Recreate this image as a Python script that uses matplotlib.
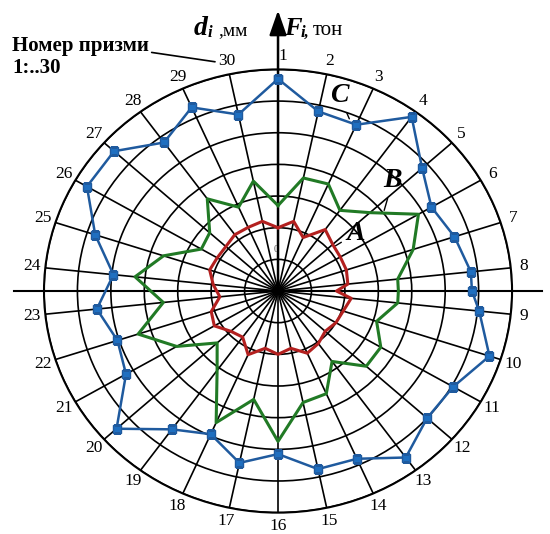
import numpy as np
import matplotlib
matplotlib.use("Agg")
import matplotlib.pyplot as plt

# spoke numbers (prism 1..30); 8.5 is the extra reading on the horizontal axis
spokes = [1, 2, 3, 4, 5, 6, 7, 8, 8.5, 9, 10, 11, 12, 13, 14, 15, 16, 17, 18, 19, 20,
          21, 22, 23, 24, 25, 26, 27, 28, 29, 30]
tick_labels = [str(i) for i in range(1, 31)]

# A - red (inner)
series_a = [2.0, 2.25, 1.85, 2.4, 2.2, 2.15, 2.15, 2.1, 1.75, 2.2, 2.05, 2.0, 1.9, 2.05,
            2.15, 1.85, 2.0, 1.85, 2.2, 1.8, 1.9, 2.2, 2.1, 1.75, 1.95, 2.15, 2.1, 2.1,
            2.2, 2.2, 2.25]
# B - green
series_b = [2.7, 3.65, 3.7, 3.15, 3.7, 4.85, 4.25, 3.6, 3.6, 3.6, 3.1, 3.55, 3.55, 2.75,
            3.55, 3.6, 4.75, 3.5, 4.55, 3.1, 2.45, 3.5, 4.4, 3.45, 4.3, 3.6, 2.65, 2.75,
            3.6, 2.9, 3.55]
# C - blue with markers
series_c = [6.7, 5.8, 5.75, 6.8, 5.8, 5.3, 5.55, 5.8, 5.8, 6.05, 6.65, 6.05, 6.0, 6.5,
            5.8, 5.75, 5.15, 5.55, 4.95, 5.4, 6.5, 5.25, 5.05, 5.45, 4.95, 5.75, 6.6,
            6.6, 5.8, 6.35, 5.7]

SERIF = "Liberation Serif"
W, H = 550, 534


def px(x, y):
    return x / W, 1 - y / H


def closed(vals):
    th = np.deg2rad((np.array(spokes) - 1) * 12.0)
    return np.append(th, th[0]), np.append(vals, vals[0])


fig = plt.figure(figsize=(5.5, 5.34), dpi=100)
ax = fig.add_axes([0.08, 0.040, 0.851, 0.830], projection="polar")
ax.set_aspect("auto")
ax.set_theta_zero_location("N")
ax.set_theta_direction(-1)
ax.set_ylim(0, 7)

ax.set_xticks(np.deg2rad(np.arange(30) * 12.0))
ax.set_xticklabels(tick_labels, fontsize=12.5, family=SERIF)
ax.tick_params(axis="x", pad=-1)
ax.get_xticklabels()[0].set_horizontalalignment("left")
ax.set_yticks(range(1, 8))
ax.set_yticklabels([])
ax.grid(True, color="black", linewidth=1.2)
ax.spines["polar"].set_linewidth(1.5)

# axes: horizontal line and vertical arrow
ax.plot([np.pi / 2, 0, 3 * np.pi / 2], [7.9, 0, 7.9], color="black", lw=1.5,
        clip_on=False, zorder=3)
ax.annotate("", xy=(0, 8.95), xytext=(0, 0), xycoords="data",
            arrowprops=dict(arrowstyle="-|>,head_length=1.0,head_width=0.35",
                            color="black", lw=1.8, mutation_scale=15),
            annotation_clip=False, zorder=4)

th, r = closed(series_a)
ax.plot(th, r, color="#b3201f", lw=2.2, zorder=5)
th, r = closed(series_b)
ax.plot(th, r, color="#217a25", lw=2.2, zorder=5)
th, r = closed(series_c)
ax.plot(th, r, color="#1f5a9e", lw=1.8, marker="s", markersize=5.5,
        markerfacecolor="#1f6fc0", markeredgecolor="#1f5a9e", zorder=6)

# curve labels with leaders
lab = dict(fontsize=20, style="italic", weight="bold", family=SERIF,
           ha="center", va="center", annotation_clip=False)
ax.annotate("C", xy=(np.deg2rad(22), 5.78), xytext=(np.deg2rad(16.5), 6.45),
            arrowprops=dict(arrowstyle="-", lw=1, color="black"), **lab)
ax.annotate("B", xy=(np.deg2rad(52), 4.0), xytext=(np.deg2rad(44.5), 4.9),
            arrowprops=dict(arrowstyle="-", lw=1, color="black"), **lab)
ax.annotate("A", xy=(np.deg2rad(50), 2.15), xytext=(np.deg2rad(52), 2.95),
            arrowprops=dict(arrowstyle="-", lw=1, color="black"), **lab)
ax.text(np.deg2rad(-3), 1.3, "0", fontsize=7, color="#555555", family=SERIF,
        ha="center", va="center")

# header texts
fig.text(*px(194, 35), "d", fontsize=20, style="italic", weight="bold",
         family=SERIF, ha="left", va="baseline")
fig.text(*px(208, 37), "i", fontsize=12, style="italic", weight="bold",
         family=SERIF, ha="left", va="baseline")
fig.text(*px(218, 35), ",мм", fontsize=14, family=SERIF, ha="left", va="baseline")
fig.text(*px(284, 35), "F", fontsize=19, style="italic", weight="bold",
         family=SERIF, ha="left", va="baseline")
fig.text(*px(301, 37), "i,", fontsize=12, style="italic", weight="bold",
         family=SERIF, ha="left", va="baseline")
fig.text(*px(313, 35), "тон", fontsize=15, family=SERIF, ha="left", va="baseline")

ax.annotate("Номер призми\n1:..30", xy=(np.deg2rad(346), 7.45),
            xytext=px(12, 57), textcoords="figure fraction",
            fontsize=15, weight="bold", family=SERIF, ha="left", va="center",
            linespacing=1.1, annotation_clip=False,
            arrowprops=dict(arrowstyle="-", lw=1.2, color="black",
                            relpos=(1.0, 0.62), shrinkA=0, shrinkB=2))

fig.savefig("out.png", dpi=100)
